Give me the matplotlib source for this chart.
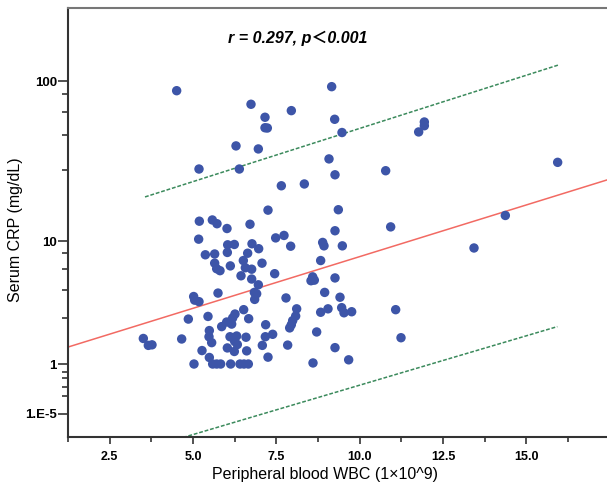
import numpy as np
import matplotlib
matplotlib.use("Agg")
import matplotlib.pyplot as plt

# ---- data ----
wbc = [4.51, 6.74, 7.16, 7.16, 7.23, 7.95, 9.16, 9.25, 9.47, 6.29, 6.96, 9.08, 5.18, 6.39, 9.26,
       11.94, 11.94, 11.77, 10.78, 15.94, 10.93, 14.37, 13.43, 11.08, 11.24,
       7.65, 8.34, 7.25, 9.36, 5.19, 5.58, 5.72, 6.71, 6.02, 9.26, 5.17, 7.48, 7.73, 8.89, 8.93,
       9.48, 7.93, 6.04, 6.24, 6.77, 6.97, 6.64, 6.03, 5.65, 5.37, 6.51, 7.07, 5.65, 6.12, 6.57,
       6.76, 5.71, 5.81, 8.83, 7.45, 6.44, 6.76, 9.26, 8.59, 8.54, 8.64, 6.96, 6.84, 6.91, 6.85,
       5.75, 5.02, 5.05, 5.18, 8.95, 9.41, 7.79, 8.11, 8.08, 7.99, 7.95, 7.90, 9.05, 8.83, 9.46,
       9.53, 9.76, 6.52, 6.67, 6.26, 6.19, 5.45, 4.86, 6.01, 5.86, 6.16, 7.18, 5.49, 7.39, 7.17,
       8.71, 3.51, 3.66, 3.77, 4.66, 5.48, 5.56, 6.11, 6.31, 6.59, 6.25, 6.33, 6.03, 6.24, 6.61,
       7.08, 7.84, 9.26, 5.27, 5.49, 7.25, 5.03, 5.59, 5.71, 5.83, 6.13, 6.41, 6.53, 6.66, 8.60, 9.67]
crp = [87.6, 72.4, 60.3, 52.0, 51.8, 66.2, 92.7, 58.6, 48.6, 40.2, 38.5, 33.4, 28.9, 28.9, 26.6,
       56.4, 53.5, 49.0, 28.2, 31.8, 12.4, 14.7, 9.0, 3.25, 1.88,
       22.7, 23.3, 15.9, 16.0, 13.5, 13.75, 13.0, 12.9, 12.1, 11.7, 10.3, 10.5, 10.9, 9.8, 9.3,
       9.3, 9.25, 9.45, 9.5, 9.6, 8.9, 8.3, 8.4, 8.2, 8.1, 7.4, 7.1, 7.1, 6.8, 6.6,
       6.45, 6.5, 6.3, 7.4, 6.0, 5.8, 5.5, 5.6, 5.7, 5.35, 5.4, 5.0, 4.4, 4.3, 3.9,
       4.35, 4.1, 3.85, 3.75, 4.4, 4.05, 4.0, 3.3, 2.89, 2.65, 2.45, 2.30, 3.3, 3.1, 3.37,
       3.07, 3.13, 3.25, 2.75, 3.0, 2.79, 2.87, 2.73, 2.58, 2.36, 2.48, 2.45, 2.18, 2.02, 1.92,
       2.12, 1.85, 1.59, 1.61, 1.83, 1.92, 1.69, 1.92, 1.95, 1.90, 1.74, 1.62, 1.50, 1.38, 1.40,
       1.59, 1.60, 1.51, 1.41, 1.19, 1.2, 1.0, 1.0, 1.0, 1.0, 1.0, 1.0, 1.0, 1.0, 1.03, 1.12]

fit_x = [1.25, 17.42]
fit_y = [1.53, 24.7]
pi_upper_x = [3.56, 15.96]
pi_upper_y = [19.3, 125.5]
pi_lower_x = [3.56, 15.93]
pi_lower_y = [-0.62, 2.36]

x_ticks = [2.5, 5.0, 7.5, 10.0, 12.5, 15.0]
x_tick_labels = ["2.5", "5.0", "7.5", "10.0", "12.5", "15.0"]
y_ticks = [1e-5, 1, 10, 100]
y_tick_labels = ["1.E-5", "1", "10", "100"]
annotation = "r = 0.297, p\uff1c0.001"


def fwd(y):
    y = np.asarray(y, dtype=float)
    return np.sign(y) * np.log10(1 + np.abs(y))


def inv(u):
    u = np.asarray(u, dtype=float)
    return np.sign(u) * (10 ** np.abs(u) - 1)


W, H = 607, 492
fig = plt.figure(figsize=(W / 100, H / 100), dpi=100)
ax = fig.add_axes([68 / W, 55 / H, (W - 68) / W, (437 - 8) / H])
ax.set_yscale("function", functions=(fwd, inv))

ax.scatter(wbc, crp, s=46, color="#3d55a8", edgecolors="none", zorder=3)
ax.plot(fit_x, fit_y, color="#f26a63", lw=1.1, zorder=2)
ax.plot(pi_upper_x, pi_upper_y, color="#3b8a5c", lw=1.1, ls=(0, (2.5, 1.2)), zorder=2)
ax.plot(pi_lower_x, pi_lower_y, color="#3b8a5c", lw=1.1, ls=(0, (2.5, 1.2)), zorder=2)

ax.set_xlim(1.25, 17.42)
ax.set_ylim(-0.376, 278)

narrow = ["Liberation Sans Narrow", "Liberation Sans", "DejaVu Sans"]
sans = ["Liberation Sans", "DejaVu Sans"]

ax.set_xticks(x_ticks)
ax.set_xticklabels(x_tick_labels, fontfamily=narrow, fontweight="bold", fontsize=9)
ax.set_xticks([1.25, 3.75, 6.25, 8.75, 11.25, 13.75, 16.25], minor=True)
ax.set_yticks(y_ticks)
ax.set_yticklabels(y_tick_labels, fontfamily=sans, fontweight="bold", fontsize=9.5)
ax.set_yticks([83.7, 64.9, 47.0, 28.5, 8.33, 6.47, 4.58, 2.79, 0.79, 0.65, 0.455, 0.28], minor=True)
ax.yaxis.set_minor_formatter(matplotlib.ticker.NullFormatter())
ax.xaxis.set_minor_formatter(matplotlib.ticker.NullFormatter())

ax.tick_params(axis="both", which="both", direction="out", color="#333333", width=1.2)
ax.tick_params(axis="x", which="major", length=5, pad=5)
ax.tick_params(axis="x", which="minor", length=3.5)
ax.tick_params(axis="y", which="major", length=7, pad=1)
ax.tick_params(axis="y", which="minor", length=4)

for side in ["left", "bottom"]:
    ax.spines[side].set_color("#333333")
    ax.spines[side].set_linewidth(1.5)
ax.spines["top"].set_color("#777777")
ax.spines["top"].set_linewidth(1.5)
ax.spines["right"].set_visible(False)

ax.set_xlabel("Peripheral blood WBC (1\u00d710^9)", fontfamily=sans, fontsize=11.5)
ax.set_ylabel("Serum CRP (mg/dL)", fontfamily=sans, fontsize=11.5)
ax.xaxis.set_label_coords((325 - 68) / 539, -(475 - 437) / 429)
ax.yaxis.set_label_coords((16 - 68) / 539, (437 - 230) / 429)
ax.xaxis.label.set_va("center")
ax.yaxis.label.set_va("center")

ax.text(0.427, 0.930, annotation, transform=ax.transAxes, ha="center", va="center",
        fontsize=11.5, fontweight="bold", fontstyle="italic",
        fontfamily=["Liberation Sans", "Noto Sans CJK SC", "DejaVu Sans"])

fig.savefig("out.png", dpi=100)
